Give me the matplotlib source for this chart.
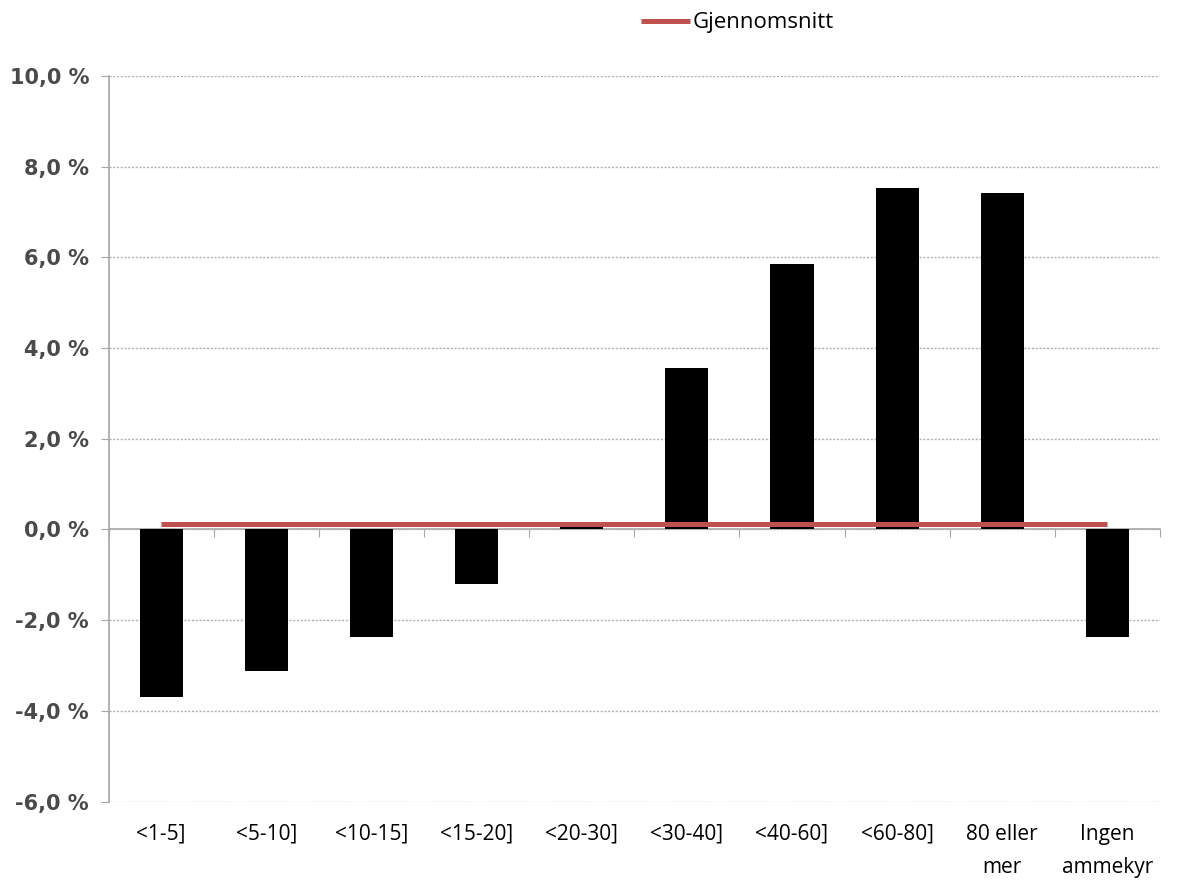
import matplotlib.pyplot as plt
import numpy as np
from matplotlib.ticker import FixedLocator

categories = ["<1-5]", "<5-10]", "<10-15]", "<15-20]", "<20-30]", "<30-40]",
              "<40-60]", "<60-80]", "80 eller\nmer", "Ingen\nammekyr"]
avvik = [-3.70, -3.13, -2.38, -1.21, 0.06, 3.55, 5.86, 7.53, 7.42, -2.36]
gjennomsnitt = [0.13] * len(categories)
yticks = [-6, -4, -2, 0, 2, 4, 6, 8, 10]

LABEL_FONT = ["Liberation Sans Narrow", "Open Sans", "DejaVu Sans"]

fig = plt.figure(figsize=(11.8, 8.81), dpi=100)
ax = fig.add_axes([0.092, 0.09, 0.891, 0.824])

x = np.arange(len(categories))
ax.bar(x, avvik, width=0.41, color="black", zorder=3)
ax.plot(x, gjennomsnitt, color="#C0504D", linewidth=3.6, zorder=4,
        label="Gjennomsnitt", solid_capstyle="butt")

ax.set_xlim(-0.5, len(categories) - 0.5)
ax.set_ylim(-6, 10)
ax.set_yticks(yticks)
ax.set_yticklabels([f"{v:.1f} %".replace(".", ",") for v in yticks],
                   fontsize=15, color="#4a4a4a", fontweight="bold",
                   family="DejaVu Sans")
ax.yaxis.grid(True, color="#b0b0b0", linestyle=(0, (1.5, 1.2)), linewidth=1.0)
ax.set_axisbelow(True)

ax.set_xticks(x)
ax.set_xticklabels(categories, fontsize=15, family=LABEL_FONT,
                   color="black", linespacing=1.75, va="top")
ax.tick_params(axis="x", length=0, pad=16)
ax.tick_params(axis="y", length=6, color="#a6a6a6", pad=8)

for s in ["top", "right", "bottom"]:
    ax.spines[s].set_visible(False)
ax.spines["left"].set_color("#a6a6a6")
ax.spines["left"].set_linewidth(1.2)

# zero axis line with category tick marks
zero_ax = ax.secondary_xaxis(6 / 16)
zero_ax.spines["bottom"].set_color("#a6a6a6")
zero_ax.spines["bottom"].set_linewidth(1.2)
zero_ax.xaxis.set_major_locator(FixedLocator(np.arange(-0.5, len(categories), 1)))
zero_ax.tick_params(axis="x", length=6, color="#a6a6a6", labelbottom=False)

fig.legend(loc="center", bbox_to_anchor=(0.625, 0.974), frameon=False,
           handlelength=2.2, handletextpad=0.15, prop={"family": LABEL_FONT, "size": 16})

fig.savefig("out.png", dpi=100)
